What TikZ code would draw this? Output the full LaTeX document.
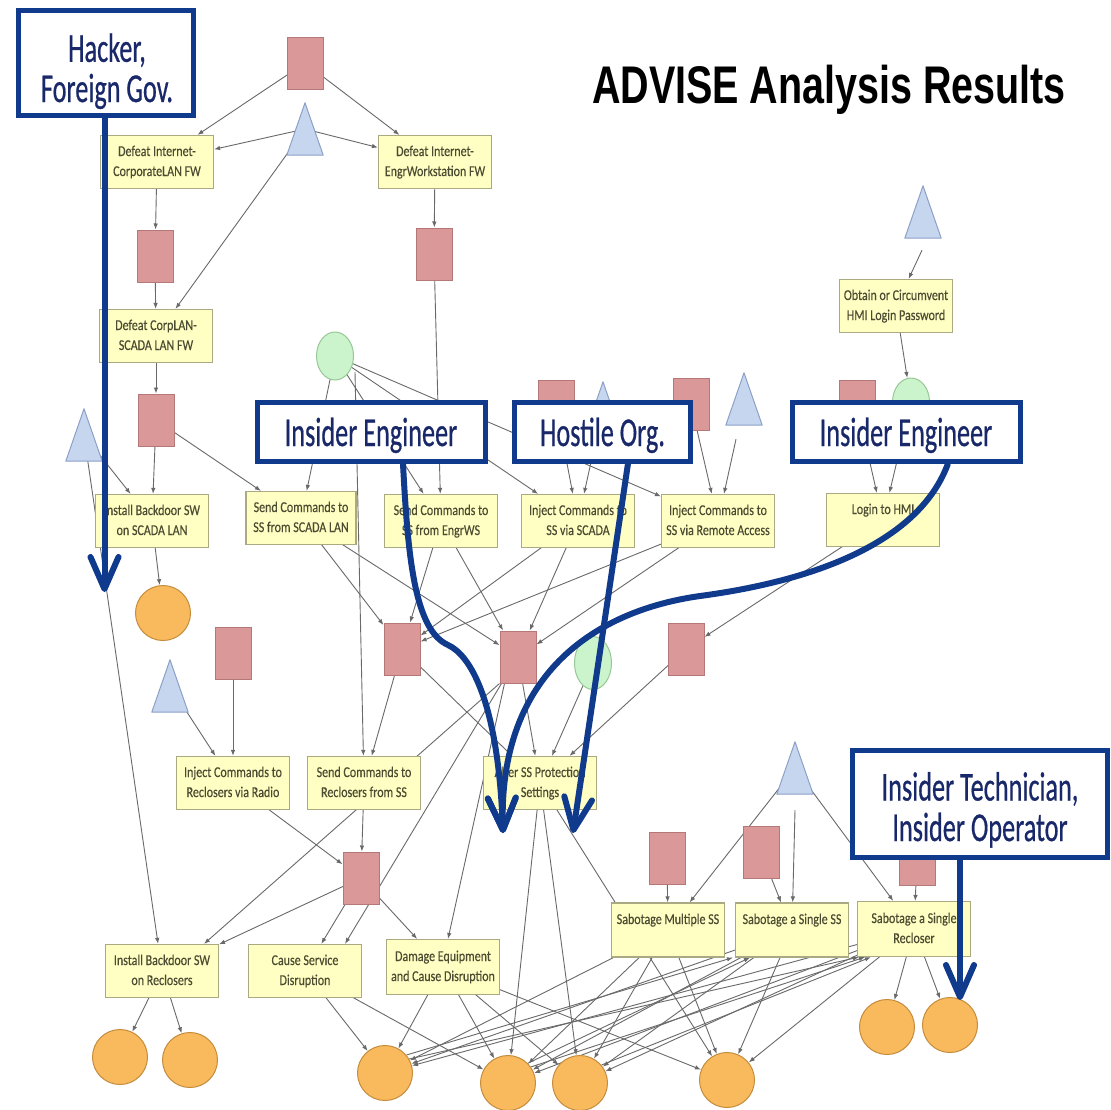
\documentclass[tikz,border=0pt]{standalone}
\usepackage{fontspec}
\setmainfont{Carlito}
\newfontfamily\titlefont{Liberation Sans}
\newfontfamily\calfont{Carlito}[FakeBold=0.7]
\newfontfamily\stepfont{Carlito}[FakeBold=0.4]
\usepackage{graphicx}
\usetikzlibrary{arrows.meta,calc,shapes.geometric}
\pgfdeclarelayer{bg}
\pgfsetlayers{bg,main}

\definecolor{ynfill}{RGB}{255,255,196}
\definecolor{ynline}{RGB}{170,170,130}
\definecolor{ytext}{RGB}{75,75,50}
\definecolor{rfill}{RGB}{218,152,152}
\definecolor{rline}{RGB}{180,120,120}
\definecolor{tfill}{RGB}{198,214,238}
\definecolor{tline}{RGB}{140,160,200}
\definecolor{gfill}{RGB}{204,244,204}
\definecolor{gline}{RGB}{150,200,150}
\definecolor{ofill}{RGB}{249,186,94}
\definecolor{oline}{RGB}{196,140,60}
\definecolor{edgec}{RGB}{105,105,105}
\definecolor{navy}{RGB}{16,58,140}
\definecolor{navytext}{RGB}{25,40,105}

\newcommand\yt[2]{\scalebox{0.8}[1]{\begin{tabular}{@{}c@{}}#1\\#2\end{tabular}}}
\newcommand\ct[1]{\scalebox{0.64}[1]{#1}}
\newcommand\ctt[2]{\scalebox{0.64}[1]{\begin{tabular}[b]{@{}c@{}}#1\\#2\end{tabular}}}

\begin{document}
\begin{tikzpicture}[x=1pt,y=-1pt,
  ybox/.style={draw=ynline, fill=ynfill, line width=1.2pt, inner sep=0pt,
    minimum width=113pt, minimum height=53pt, text=ytext,
    font=\stepfont\fontsize{15}{20}\selectfont},
  rbox/.style={draw=rline, fill=rfill, line width=1pt, minimum width=36pt,
    minimum height=52pt, inner sep=0pt},
  tribox/.style={minimum width=36pt, minimum height=52pt, inner sep=0pt},
  trist/.style={draw=tline, fill=tfill, line width=1pt, line join=round},
  gnode/.style={ellipse, draw=gline, fill=gfill, line width=1pt,
    minimum width=37pt, minimum height=48pt, inner sep=0pt},
  onode/.style={ellipse, draw=oline, fill=ofill, line width=1pt,
    minimum width=55pt, minimum height=55pt, inner sep=0pt},
  gedge/.style={draw=edgec, line width=0.9pt, -{Latex[length=6pt,width=4.5pt]}},
  cbox/.style={draw=navy, fill=white, line width=5pt, inner sep=0pt},
  ctext/.style={text=navytext, font=\calfont\fontsize{41}{40}\selectfont,
    inner sep=0pt, anchor=base},
  navyarrow/.style={draw=navy, line width=6pt,
    -{Straight Barb[length=32pt,width=28pt,round]}}
]
\useasboundingbox (0,0) rectangle (1111,1109);
\begin{pgfonlayer}{bg}
\fill[white] (0,0) rectangle (1111,1109);
\end{pgfonlayer}

% title
\node[font=\titlefont\bfseries\fontsize{53}{60}\selectfont, anchor=base, inner sep=0pt]
  (title) at (829,103) {\scalebox{0.745}[1]{ADVISE Analysis Results}};

% red rectangles
\foreach \n/\p in {R1/{305,63}, R2/{155,256}, R3/{434,254}, R4/{156,420},
  R5/{556,406}, R6/{691,404}, R7/{857,406}, R8/{233,653}, R9/{402,649},
  R10/{518,657}, R11/{686,649}, R12/{361,878}, R13/{667,858}, R14/{761,852},
  R15/{917,859}}
  \node[rbox] (\n) at (\p) {};

% triangles
\foreach \n/\p in {T1/{305,129}, T2/{923,212}, T3/{84,435}, T4/{603,408},
  T5/{744,399}, T6/{170,686}, T7/{795,768}}
  {\node[tribox] (\n) at (\p) {};
   \draw[trist] (\n.south west) -- (\n.north) -- (\n.south east) -- cycle;}

% green
\node[gnode] (G1) at (335,356) {};
\node[gnode] (G2) at (911,402) {};
\node[gnode, minimum height=53pt] (G3) at (593,663) {};

% orange
\foreach \n/\p in {O1/{163,613}, O2/{120,1057}, O3/{190,1060}, O4/{385,1073},
  O5/{508,1083}, O6/{580,1083}, O7/{727,1080}, O8/{887,1027}, O9/{950,1025}}
  \node[onode] (\n) at (\p) {};

% yellow steps
\node[ybox] (Y1) at (157,162) {\yt{Defeat Internet-}{CorporateLAN FW}};
\node[ybox] (Y2) at (435,162) {\yt{Defeat Internet-}{EngrWorkstation FW}};
\node[ybox] (Y3) at (896,306) {\yt{Obtain or Circumvent}{HMI Login Password}};
\node[ybox] (Y4) at (156,336) {\yt{Defeat CorpLAN-}{SCADA LAN FW}};
\node[ybox] (Y5) at (152,521) {\yt{Install Backdoor SW}{on SCADA LAN}};
\node[ybox, minimum width=110pt] (Y6) at (301,518) {\yt{Send Commands to}{SS from SCADA LAN}};
\node[ybox] (Y7) at (441,521) {\yt{Send Commands to}{SS from EngrWS}};
\node[ybox] (Y8) at (578,521) {\yt{Inject Commands to}{SS via SCADA}};
\node[ybox] (Y9) at (718,521) {\yt{Inject Commands to}{SS via Remote Access}};
\node[ybox] (Y10) at (883,520) {\yt{Login to HMI}{\strut}};
\node[ybox] (Y11) at (233,783) {\yt{Inject Commands to}{Reclosers via Radio}};
\node[ybox] (Y12) at (364,783) {\yt{Send Commands to}{Reclosers from SS}};
\node[ybox] (Y13) at (540,783) {\yt{Alter SS Protection}{Settings}};
\node[ybox, minimum height=54pt] (Y14) at (668,930) {\yt{Sabotage Multiple SS}{\strut}};
\node[ybox, minimum height=54pt] (Y15) at (792,930) {\yt{Sabotage a Single SS}{\strut}};
\node[ybox, minimum height=55pt] (Y16) at (914,929) {\yt{Sabotage a Single}{Recloser}};
\node[ybox] (Y17) at (162,971) {\yt{Install Backdoor SW}{on Reclosers}};
\node[ybox] (Y18) at (305,971) {\yt{Cause Service}{Disruption}};
\node[ybox, minimum height=55pt] (Y19) at (443,967) {\yt{Damage Equipment}{and Cause Disruption}};

% connectors (behind the nodes)
\begin{pgfonlayer}{bg}
\foreach \a/\b in {R1/Y1, R1/Y2, T1/Y1, T1/Y2, T1/Y4, Y1/R2, R2/Y4, Y2/R3,
  R3/Y7, Y3/G2, Y4/R4, R4/Y5, T3/Y5, R4/Y6, G1/Y6, G1/Y7, G1/Y8, G1/Y9,
  R5/Y8, T4/Y8, R6/Y9, R7/Y10, G2/Y10,
  Y5/O1, Y6/R9, Y6/R10, Y7/R9, Y7/R10, Y8/R9, Y9/R9, Y8/R10, Y9/R10, Y10/R11,
  R9/Y12, R9/Y13, R10/Y13, G3/Y13, R11/Y13, R8/Y11, T6/Y11, T3/Y17,
  Y11/R12, Y12/R12, R12/Y17, R12/Y18, R12/Y19,
  Y17/O2, Y17/O3, Y18/O4, Y18/O5, Y19/O4, Y19/O5, Y19/O6, Y19/O7,
  Y13/O5, Y13/O6, Y13/O7,
  Y14/O4, Y15/O4, Y16/O4, Y14/O5, Y15/O5, Y16/O5, Y14/O6, Y15/O6, Y16/O6,
  Y14/O7, Y15/O7, Y16/O7, Y16/O8, Y16/O9,
  T7/Y14, T7/Y16, R13/Y14, R14/Y15, R15/Y16}
  \draw[gedge] (\a.center) -- (\b);
\draw[gedge] ($(T2.south)+(-1,12)$) -- (Y3);
\draw[gedge] ($(T5.south)+(-8,14)$) -- (Y9);
\draw[gedge] ($(T7.south)+(0,16)$) -- (Y15);
\draw[gedge] ($(G1)+(20,16)$) -- (Y12);
\draw[gedge] (R10.south west) -- ($(Y17.north)+(42,0)$);
\draw[gedge] ($(R10.south west)+(2,0)$) -- ($(Y18.north)+(40,0)$);
\draw[gedge] ($(R10.south west)+(5,0)$) -- ($(Y19.north)+(5,0)$);
\draw[gedge] (O4.30) -- ($(Y16.south west)+(2,0)$);
\draw[gedge] (O5.35) -- ($(Y16.south west)+(8,0)$);
\draw[gedge] (O6.40) -- ($(Y16.south west)+(14,0)$);
\draw[gedge] (O4.40) -- ($(Y15.south west)+(-2,0)$);
\draw[gedge] (O5.45) -- ($(Y15.south west)+(15,0)$);
\end{pgfonlayer}

% callouts
\node[cbox, minimum width=175pt, minimum height=105pt] (C1) at (105.5,62.5) {};
\node[cbox, minimum width=228pt, minimum height=59pt] (C2) at (371,431.5) {};
\node[cbox, minimum width=176pt, minimum height=59pt] (C3) at (602,431.5) {};
\node[cbox, minimum width=228pt, minimum height=59pt] (C4) at (906,431.5) {};
\node[cbox, minimum width=255pt, minimum height=107pt] (C5) at (979.5,803.5) {};

\node[ctext] (C1t) at (107,102) {\ctt{Hacker,}{Foreign Gov.}};
\node[ctext] (C2t) at (371,446) {\ct{Insider Engineer}};
\node[ctext] (C3t) at (602.5,446) {\ct{Hostile Org.}};
\node[ctext] (C4t) at (906,446) {\ct{Insider Engineer}};
\node[ctext] (C5t) at (980,841) {\ctt{Insider Technician,}{Insider Operator}};

% navy arrows
\coordinate (a1) at (104.5,592);
\coordinate (tipA) at (503,833);
\coordinate (tipB) at (573,833);
\coordinate (tipC) at (960,1000);
\draw[navyarrow] (C1.south -| a1) -- (a1);
\draw[navyarrow] ($(C2.south)+(32,0)$) .. controls (408,560) and (415,630) .. (448,645)
  .. controls (470,655) and (498,700) .. (tipA);
\draw[navyarrow] ($(C4.south)+(42,0)$) .. controls (920,540) and (820,580) .. (700,596)
  .. controls (600,610) and (498,670) .. (tipA);
\draw[navyarrow] ($(C3.south)+(26,0)$) -- (tipB);
\draw[navyarrow] (C5.south -| tipC) -- (tipC);
\end{tikzpicture}
\end{document}
